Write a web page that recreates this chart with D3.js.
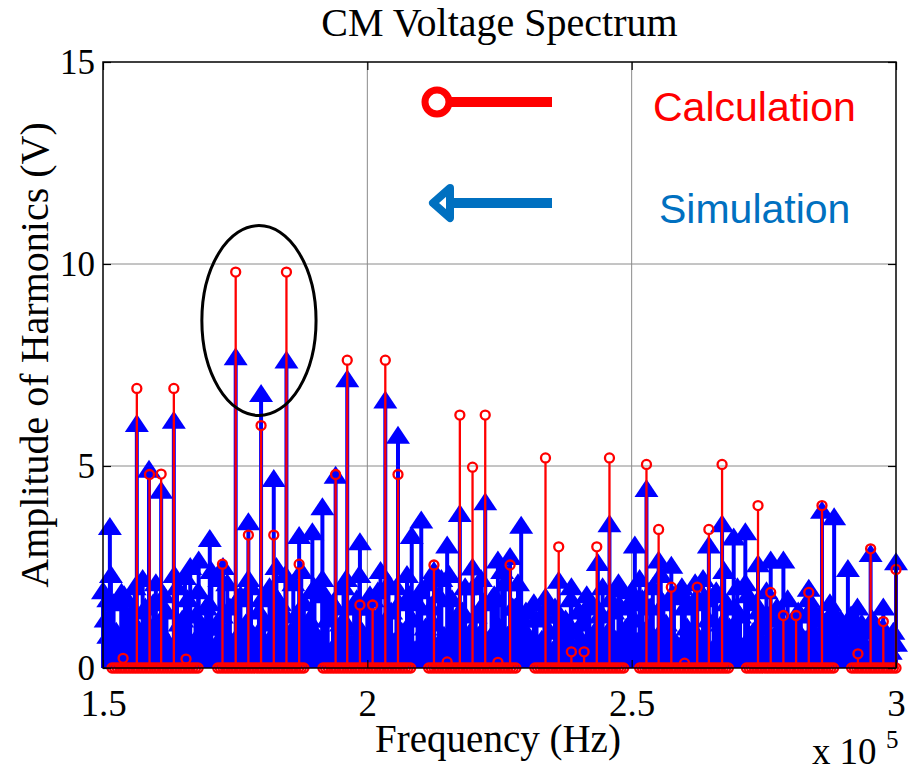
<!DOCTYPE html>
<html>
<head>
<meta charset="utf-8">
<script src="https://cdn.jsdelivr.net/npm/d3@7"></script>
<style>
  body { margin: 0; background: #fff; }
  svg { display: block; }
</style>
</head>
<body>
<svg id="chart"></svg>
<script>
// frequency values are in units of 1e5 Hz
const xTicks = [1.5, 2, 2.5, 3];
const yTicks = [0, 5, 10, 15];

// Calculation: non-zero harmonics
const calcPeakFreq = [1.538, 1.564, 1.588, 1.610, 1.634, 1.657,
  1.726, 1.751, 1.775, 1.799, 1.823, 1.847, 1.871,
  1.940, 1.962, 1.986, 2.010, 2.034, 2.058,
  2.126, 2.151, 2.175, 2.199, 2.223, 2.247, 2.270,
  2.337, 2.362, 2.386, 2.410, 2.434, 2.458,
  2.528, 2.551, 2.575, 2.600, 2.624, 2.646, 2.671,
  2.739, 2.763, 2.787, 2.811, 2.835, 2.860,
  2.928, 2.952, 2.976, 3.000];
const calcPeakAmp = [0.24, 6.92, 4.79, 4.80, 6.92, 0.22,
  2.57, 9.80, 3.29, 6.00, 3.29, 9.80, 2.57,
  4.79, 7.62, 1.56, 1.56, 7.62, 4.79,
  2.55, 0.15, 6.26, 4.97, 6.26, 0.14, 2.55,
  5.20, 3.00, 0.40, 0.40, 3.00, 5.20,
  5.04, 3.43, 2.00, 0.12, 2.00, 3.43, 5.04,
  4.02, 1.87, 1.30, 1.30, 1.87, 4.02,
  0.35, 2.95, 1.15, 2.44];
// Calculation: bands of harmonics that sit at 0 V
const calcZeroBands = [[1.517, 1.680], [1.717, 1.880], [1.916, 2.082], [2.116, 2.281],
  [2.317, 2.485], [2.515, 2.683], [2.717, 2.882], [2.916, 3.000]];
const calcZeroStep = 0.005;

// Simulation: visible peaks
const simPeakFreq = [1.510, 1.513, 1.535, 1.545, 1.564, 1.587, 1.610, 1.634, 1.655, 1.681,
  1.702, 1.727, 1.751, 1.775, 1.799, 1.823, 1.828, 1.847, 1.871, 1.896,
  1.915, 1.940, 1.962, 1.986, 2.010, 2.034, 2.058, 2.084, 2.102, 2.126,
  2.151, 2.175, 2.199, 2.223, 2.247, 2.270, 2.291, 2.337, 2.362, 2.386,
  2.436, 2.458, 2.477, 2.506, 2.528, 2.551, 2.575, 2.600, 2.624, 2.646,
  2.671, 2.693, 2.715, 2.739, 2.763, 2.787, 2.811, 2.835, 2.860, 2.883,
  2.909, 2.927, 2.952, 2.976, 3.000];
const simPeakAmp = [1.70, 3.49, 1.86, 1.70, 6.04, 4.91, 4.39, 6.12, 2.25, 2.66,
  3.19, 2.50, 7.69, 3.61, 6.78, 4.68, 2.50, 7.61, 3.27, 3.36,
  3.98, 4.76, 7.15, 3.11, 1.70, 6.62, 5.75, 3.27, 3.65, 2.40,
  3.03, 3.81, 2.49, 4.10, 2.66, 2.75, 3.52, 1.75, 2.16, 2.00,
  2.60, 3.56, 1.95, 3.03, 4.43, 2.66, 2.53, 1.75, 1.75, 3.03,
  3.56, 3.23, 3.36, 2.57, 2.66, 2.66, 1.00, 1.96, 3.89, 3.73,
  2.45, 1.50, 2.82, 1.50, 2.62];
// Simulation: dense low-level spectrum on a 0.005 grid, split in two interleaved rows
// (floorA at 1.500, 1.510, ... 3.000; floorB at 1.505, 1.515, ... 2.995)
const simFloorStep = 0.01;
const simFloorA = [
  1.9, 0.8, 1.6, 0.5, 1.8, 1.1, 2.0, 0.6, 1.5, 1.0,
  2.1, 0.7, 1.4, 0.4, 2.0, 1.2, 1.7, 0.6, 1.9, 1.0,
  1.6, 0.5, 2.2, 0.9, 1.5, 0.4, 1.8, 1.1, 2.0, 0.7,
  1.7, 0.6, 1.9, 1.0, 1.4, 0.5, 2.1, 0.8, 1.6, 1.2,
  2.0, 0.7, 1.8, 0.4, 1.5, 1.1, 2.2, 0.6, 1.7, 0.9,
  1.5, 0.5, 1.9, 1.0, 2.1, 0.6, 1.6, 0.8, 1.8, 0.4,
  1.9, 1.0, 1.5, 0.5, 2.2, 0.7, 1.7, 1.1, 1.4, 0.6,
  2.0, 0.8, 1.6, 0.4, 1.8, 1.0, 2.1, 0.6, 1.5, 0.9,
  1.4, 0.5, 1.2, 0.7, 1.5, 0.4, 1.3, 0.8, 1.1, 0.5,
  1.4, 0.6, 1.6, 0.9, 1.3, 0.5, 1.7, 0.7, 1.5, 1.0,
  1.9, 0.6, 1.7, 1.0, 2.0, 0.5, 1.6, 0.8, 1.8, 0.4,
  1.5, 0.9, 2.1, 0.6, 1.7, 0.4, 1.9, 1.1, 1.6, 0.7,
  2.0, 0.5, 1.8, 0.9, 1.4, 0.6, 1.3, 0.8, 1.2, 0.5,
  1.1, 0.4, 1.3, 0.7, 1.5, 0.5, 1.2, 0.9, 1.4, 0.6,
  1.0, 0.4, 1.2, 0.6, 0.9, 0.3, 1.1, 0.5, 0.8, 0.4,
  0.6];
const simFloorB = [
  1.2, 2.3, 0.9, 1.7, 0.6, 1.4, 1.0, 2.2, 0.7, 1.6,
  1.0, 1.8, 0.6, 2.3, 1.1, 0.8, 2.5, 1.3, 0.7, 1.5,
  2.4, 1.0, 1.3, 2.1, 0.6, 1.7, 1.0, 2.2, 0.8, 1.4,
  1.1, 2.0, 0.7, 1.6, 2.3, 0.9, 1.3, 2.4, 1.0, 1.9,
  0.8, 2.2, 1.2, 1.6, 0.7, 2.0, 1.0, 1.5, 2.3, 0.6,
  1.8, 1.1, 2.4, 0.7, 1.4, 2.0, 0.9, 2.3, 1.2, 1.6,
  0.7, 2.1, 1.1, 1.8, 0.8, 2.3, 1.0, 1.4, 2.0, 0.9,
  1.3, 2.2, 0.7, 1.7, 1.0, 2.4, 0.8, 1.5, 2.1, 1.2,
  0.8, 1.6, 0.6, 1.3, 0.9, 1.5, 0.7, 1.2, 1.7, 0.9,
  1.1, 1.8, 0.7, 1.5, 2.0, 0.9, 1.4, 2.1, 0.8, 1.6,
  1.2, 2.2, 0.9, 1.5, 0.7, 2.3, 1.1, 1.8, 0.6, 2.0,
  1.0, 1.6, 0.8, 2.2, 1.2, 1.8, 0.7, 2.4, 1.0, 1.5,
  1.3, 2.1, 0.8, 1.6, 1.0, 1.9, 0.6, 1.5, 0.9, 1.7,
  0.8, 1.4, 0.6, 1.7, 0.9, 1.3, 0.7, 1.6, 1.0, 1.2,
  0.6, 1.3, 0.8, 1.1, 0.5, 1.2, 0.7, 1.0, 0.6, 0.9];

const width = 908, height = 771;
const plot = {left: 103, right: 896, top: 62, bottom: 668};
const markerR = 4.5;

const svg = d3.select("#chart")
    .attr("width", width)
    .attr("height", height);

const x = d3.scaleLinear().domain([1.5, 3]).range([plot.left, plot.right]);
const y = d3.scaleLinear().domain([0, 15]).range([plot.bottom, plot.top]);

const serif = "'Liberation Serif', 'Times New Roman', serif";
const sans = "'Liberation Sans', Arial, sans-serif";

// Grid
const grid = svg.append("g").attr("stroke", "#8a8a8a").attr("stroke-width", 1);
grid.selectAll(".gx")
    .data(xTicks.slice(1, -1))
    .enter().append("line")
    .attr("x1", d => x(d)).attr("x2", d => x(d))
    .attr("y1", plot.top).attr("y2", plot.bottom);
grid.selectAll(".gy")
    .data(yTicks.slice(1, -1))
    .enter().append("line")
    .attr("x1", plot.left).attr("x2", plot.right)
    .attr("y1", d => y(d)).attr("y2", d => y(d));

// Simulation stems (blue, triangle markers)
const simData = simFloorA.map((a, i) => ({f: 1.5 + i * simFloorStep, a}))
    .concat(simFloorB.map((a, i) => ({f: 1.505 + i * simFloorStep, a})))
    .concat(simPeakFreq.map((f, i) => ({f, a: simPeakAmp[i]})));

const sim = svg.append("g");
sim.selectAll(".sstem")
    .data(simData)
    .enter().append("line")
    .attr("x1", d => x(d.f)).attr("x2", d => x(d.f))
    .attr("y1", y(0)).attr("y2", d => y(d.a))
    .attr("stroke", "#0000ff")
    .attr("stroke-width", 4);
sim.selectAll(".smark")
    .data(simData)
    .enter().append("path")
    .attr("d", "M0,-10L12,8L-12,8Z")
    .attr("transform", d => `translate(${x(d.f)},${y(d.a)})`)
    .attr("fill", "#0000ff");

// Calculation stems (red, circle markers)
const calcZeroFreq = calcZeroBands.flatMap(([a, b]) => {
    const n = Math.round((b - a) / calcZeroStep);
    return d3.range(n + 1).map(i => a + (b - a) * i / n);
});
const calcData = calcZeroFreq.map(f => ({f, a: 0}))
    .concat(calcPeakFreq.map((f, i) => ({f, a: calcPeakAmp[i]})));

const calc = svg.append("g");
calc.selectAll(".cstem")
    .data(calcData.filter(d => d.a > 0.3))
    .enter().append("line")
    .attr("x1", d => x(d.f)).attr("x2", d => x(d.f))
    .attr("y1", y(0)).attr("y2", d => y(d.a) + markerR)
    .attr("stroke", "#ff0000")
    .attr("stroke-width", 2.3);
calc.selectAll(".cmark")
    .data(calcData)
    .enter().append("circle")
    .attr("cx", d => x(d.f))
    .attr("cy", d => y(d.a))
    .attr("r", markerR)
    .attr("fill", "none")
    .attr("stroke", "#ff0000")
    .attr("stroke-width", 2.3);

// Axes box and inward ticks
const axisStyle = g => {
    g.select(".domain").remove();
    g.selectAll(".tick line").attr("stroke", "#000").attr("stroke-width", 1.2);
    g.selectAll(".tick text").attr("fill", "#000").style("font-family", serif);
};

svg.append("g")
    .attr("transform", `translate(0,${plot.bottom})`)
    .call(d3.axisBottom(x).tickValues(xTicks).tickSize(-8).tickPadding(22).tickFormat(d => d))
    .call(axisStyle)
    .call(g => g.selectAll(".tick text").style("font-size", "37px"));
svg.append("g")
    .attr("transform", `translate(0,${plot.top})`)
    .call(d3.axisTop(x).tickValues(xTicks).tickSize(-8).tickFormat(""))
    .call(axisStyle);
svg.append("g")
    .attr("transform", `translate(${plot.left},0)`)
    .call(d3.axisLeft(y).tickValues(yTicks).tickSize(-8).tickPadding(8).tickFormat(d => d))
    .call(axisStyle)
    .call(g => g.selectAll(".tick text").style("font-size", "35px"));
svg.append("g")
    .attr("transform", `translate(${plot.right},0)`)
    .call(d3.axisRight(y).tickValues(yTicks).tickSize(-8).tickFormat(""))
    .call(axisStyle);

svg.append("rect")
    .attr("x", plot.left).attr("y", plot.top)
    .attr("width", plot.right - plot.left)
    .attr("height", plot.bottom - plot.top)
    .attr("fill", "none")
    .attr("stroke", "#000")
    .attr("stroke-width", 1.5);

// Highlight ellipse around the 1.75 / 1.85 peaks
svg.append("ellipse")
    .attr("cx", x(1.795)).attr("cy", y(8.6))
    .attr("rx", x(1.795) - x(1.687))
    .attr("ry", y(6.25) - y(8.6))
    .attr("fill", "none")
    .attr("stroke", "#000")
    .attr("stroke-width", 3);

// Legend
const legend = svg.append("g");
legend.append("line")
    .attr("x1", 447).attr("x2", 552).attr("y1", 102).attr("y2", 102)
    .attr("stroke", "#ff0000").attr("stroke-width", 10);
legend.append("circle")
    .attr("cx", 437).attr("cy", 102).attr("r", 12)
    .attr("fill", "#fff").attr("stroke", "#ff0000").attr("stroke-width", 7);
legend.append("line")
    .attr("x1", 448).attr("x2", 552).attr("y1", 203).attr("y2", 203)
    .attr("stroke", "#0070c0").attr("stroke-width", 10);
legend.append("path")
    .attr("d", "M450,188L433,203L450,218Z")
    .attr("fill", "#fff").attr("stroke", "#0070c0")
    .attr("stroke-width", 8).attr("stroke-linejoin", "round");
legend.append("text")
    .attr("x", 653).attr("y", 121)
    .style("font-family", sans).style("font-size", "41px")
    .attr("fill", "#ff0000")
    .text("Calculation");
legend.append("text")
    .attr("x", 659).attr("y", 223)
    .style("font-family", sans).style("font-size", "41px")
    .attr("fill", "#0070c0")
    .text("Simulation");

// Titles
svg.append("text")
    .attr("x", (plot.left + plot.right) / 2).attr("y", 36)
    .attr("text-anchor", "middle")
    .style("font-family", serif).style("font-size", "40px")
    .text("CM Voltage Spectrum");
svg.append("text")
    .attr("x", 498).attr("y", 752)
    .attr("text-anchor", "middle")
    .style("font-family", serif).style("font-size", "39px")
    .text("Frequency (Hz)");
svg.append("text")
    .attr("transform", "translate(48,355) rotate(-90)")
    .attr("text-anchor", "middle")
    .style("font-family", serif).style("font-size", "40px")
    .text("Amplitude of Harmonics (V)");
const expo = svg.append("text")
    .attr("x", 812).attr("y", 764)
    .style("font-family", serif).style("font-size", "37px");
expo.append("tspan").text("x");
expo.append("tspan").attr("dx", 9).text("10");
svg.append("text")
    .attr("x", 886).attr("y", 748)
    .style("font-family", serif).style("font-size", "25px")
    .text("5");
</script>
</body>
</html>
